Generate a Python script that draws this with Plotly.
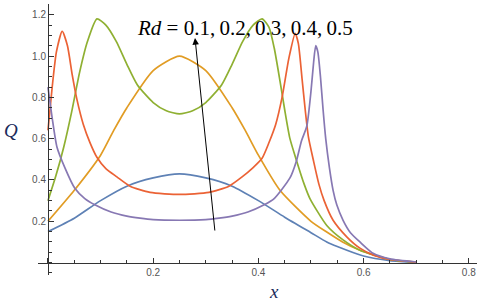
import plotly.graph_objects as go

# ---- data ----
rd_labels = ["0.1", "0.2", "0.3", "0.4", "0.5"]

x_rd01 = [0, 0.05, 0.1, 0.15, 0.2, 0.25, 0.3, 0.35, 0.4, 0.45, 0.5, 0.53, 0.55, 0.6, 0.65, 0.7]
q_rd01 = [0.15, 0.215, 0.30, 0.37, 0.41, 0.43, 0.41, 0.37, 0.30, 0.22, 0.145, 0.10, 0.078, 0.032, 0.01, 0.002]

x_rd02 = [0, 0.05, 0.1, 0.125, 0.15, 0.2, 0.25, 0.3, 0.35, 0.375, 0.4, 0.441, 0.5, 0.53, 0.56, 0.593, 0.65, 0.7]
q_rd02 = [0.20, 0.35, 0.52, 0.64, 0.75, 0.93, 1.0, 0.93, 0.75, 0.64, 0.52, 0.35, 0.20, 0.148, 0.10, 0.06, 0.015, 0.003]

x_rd03 = [0, 0.015, 0.03, 0.045, 0.06, 0.075, 0.093, 0.11, 0.13, 0.15, 0.17, 0.2, 0.225, 0.25,
          0.275, 0.3, 0.33, 0.35, 0.37, 0.39, 0.407, 0.42, 0.43, 0.441, 0.45, 0.46, 0.473, 0.487,
          0.498, 0.53, 0.561, 0.593, 0.65, 0.7]
q_rd03 = [0.30, 0.42, 0.56, 0.73, 0.92, 1.07, 1.18, 1.15, 1.07, 0.96, 0.86, 0.775, 0.735, 0.72,
          0.735, 0.775, 0.86, 0.96, 1.07, 1.15, 1.18, 1.14, 1.04, 0.88, 0.74, 0.60, 0.49, 0.38,
          0.31, 0.18, 0.11, 0.06, 0.015, 0.002]

x_rd04 = [0, 0.008, 0.016, 0.027, 0.037, 0.046, 0.055, 0.067, 0.08, 0.093, 0.11, 0.131,
          0.156, 0.194, 0.25, 0.306, 0.344, 0.369, 0.39, 0.407, 0.42, 0.433, 0.445,
          0.458, 0.47, 0.476, 0.483, 0.489, 0.495, 0.505, 0.515, 0.525, 0.542, 0.568,
          0.593, 0.62, 0.65, 0.7]
q_rd04 = [0.64, 0.85, 1.02, 1.12, 1.05, 0.91, 0.79, 0.67, 0.58, 0.51, 0.455, 0.415,
          0.37, 0.34, 0.33, 0.34, 0.37, 0.415, 0.46, 0.505, 0.58, 0.67, 0.80,
          0.99, 1.11, 1.06, 0.89, 0.74, 0.61, 0.49, 0.38, 0.30, 0.205, 0.125,
          0.07, 0.035, 0.015, 0.002]

x_rd05 = [0, 0.008, 0.017, 0.032, 0.051, 0.07, 0.089, 0.12, 0.15, 0.175, 0.2, 0.25,
          0.3, 0.325, 0.35, 0.38, 0.411, 0.43, 0.46, 0.472, 0.482, 0.492, 0.5, 0.505,
          0.509, 0.513, 0.518, 0.523, 0.528, 0.535, 0.542, 0.549, 0.561, 0.575, 0.593,
          0.618, 0.65, 0.7]
q_rd05 = [0.85, 0.70, 0.56, 0.46, 0.36, 0.31, 0.28, 0.245, 0.225, 0.215, 0.208, 0.205,
          0.208, 0.215, 0.225, 0.245, 0.28, 0.31, 0.41, 0.49, 0.59, 0.66, 0.83, 0.97,
          1.05, 1.02, 0.90, 0.74, 0.60, 0.46, 0.35, 0.28, 0.205, 0.145, 0.10,
          0.045, 0.018, 0.003]

x_tick_vals = [0, 0.2, 0.4, 0.6, 0.8]
x_tick_text = ["", "0.2", "0.4", "0.6", "0.8"]
y_tick_vals = [0.2, 0.4, 0.6, 0.8, 1.0, 1.2]
y_tick_text = ["0.2", "0.4", "0.6", "0.8", "1.0", "1.2"]

series = [(x_rd01, q_rd01), (x_rd02, q_rd02), (x_rd03, q_rd03), (x_rd04, q_rd04), (x_rd05, q_rd05)]
colors = ["#5E81B5", "#E19C24", "#8FB032", "#EB6235", "#8778B3"]

X_RANGE = [-0.019, 0.8156]
Y_RANGE = [-0.06, 1.252]

fig = go.Figure()
for (xs, ys), c, lab in zip(series, colors, rd_labels):
    fig.add_trace(go.Scatter(x=xs, y=ys, mode="lines", name="Rd=" + lab,
                             line=dict(color=c, width=1.7, shape="spline", smoothing=0.6),
                             showlegend=False))

tickfont = dict(family="Liberation Sans, Arial, sans-serif", size=10, color="#555555")

fig.update_layout(
    width=483, height=303,
    margin=dict(l=38, r=6, t=4, b=28, autoexpand=False),
    paper_bgcolor="white", plot_bgcolor="white",
    xaxis=dict(range=X_RANGE, showgrid=False, zeroline=False, showline=True, automargin=False,
               linecolor="#333333", linewidth=1,
               anchor="free", position=(0 - Y_RANGE[0]) / (Y_RANGE[1] - Y_RANGE[0]),
               ticks="inside", ticklen=5, tickcolor="#333333", tickwidth=1,
               tickvals=x_tick_vals, ticktext=x_tick_text, tickfont=tickfont,
               minor=dict(ticks="inside", ticklen=3, tickcolor="#333333", dtick=0.05, tick0=0,
                          showgrid=False)),
    yaxis=dict(range=Y_RANGE, showgrid=False, zeroline=False, showline=True, automargin=False,
               linecolor="#333333", linewidth=1,
               anchor="free", position=(0 - X_RANGE[0]) / (X_RANGE[1] - X_RANGE[0]),
               ticks="inside", ticklen=5, tickcolor="#333333", tickwidth=1,
               tickvals=y_tick_vals, ticktext=y_tick_text, tickfont=tickfont,
               minor=dict(ticks="inside", ticklen=3, tickcolor="#333333", dtick=0.05, tick0=0,
                          showgrid=False)),
)

serif = "Liberation Serif, Times New Roman, serif"
fig.add_annotation(x=(11 - 38) / 439, y=(275 - 130) / 271, xref="paper", yref="paper",
                   xanchor="center", yanchor="middle",
                   text="<i>Q</i>", showarrow=False,
                   font=dict(family=serif, size=19, color="#1a2a5a"))
fig.add_annotation(x=(274 - 38) / 439, y=(275 - 291) / 271, xref="paper", yref="paper",
                   xanchor="center", yanchor="middle",
                   text="<i>x</i>", showarrow=False,
                   font=dict(family=serif, size=19, color="#1a2a5a"))
fig.add_annotation(x=0.3745, y=1.136, xref="x", yref="y",
                   text="<i>Rd</i> = " + ",\u2009".join(rd_labels), showarrow=False,
                   font=dict(family=serif, size=21, color="black"))
fig.add_annotation(x=0.2795, y=1.087, ax=0.3175, ay=0.148, xref="x", yref="y",
                   axref="x", ayref="y", text="", showarrow=True,
                   arrowhead=2, arrowsize=1.3, arrowwidth=1, arrowcolor="black")

fig.write_html("out.html", config={"displayModeBar": False},
               post_script="document.body.style.margin='0';document.body.style.overflow='hidden';")
